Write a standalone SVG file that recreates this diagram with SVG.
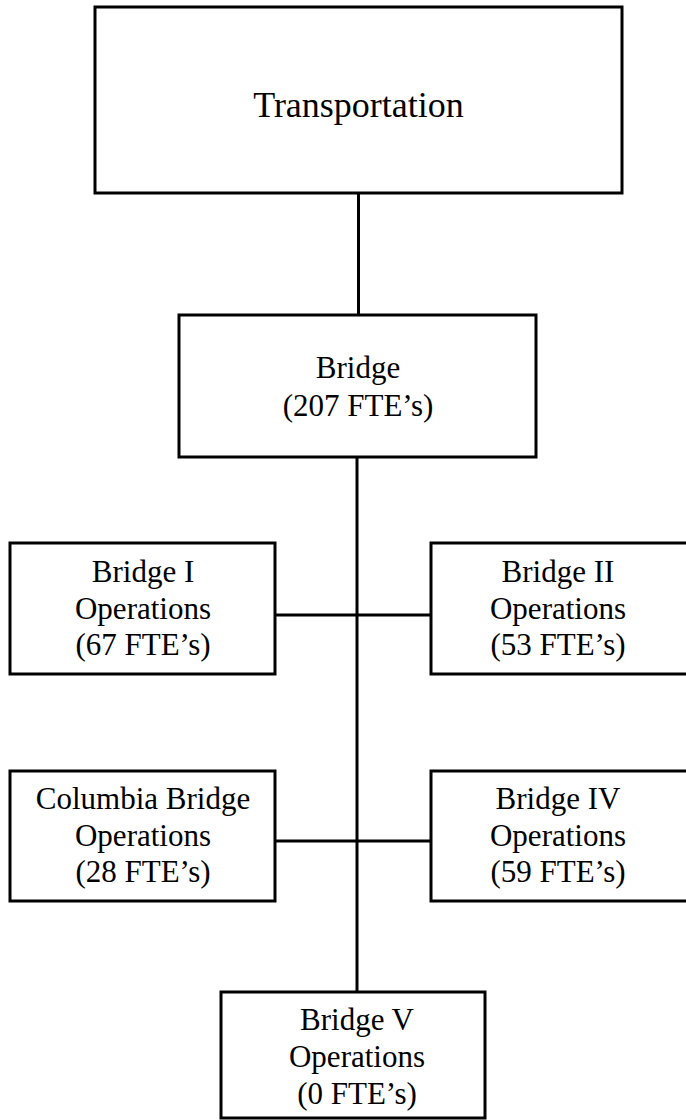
<svg xmlns="http://www.w3.org/2000/svg" width="686" height="1120" viewBox="0 0 686 1120">
<style>
.box{fill:#fff;stroke:#000;stroke-width:3}
.ln{stroke:#000;stroke-width:3;fill:none}
text{font-family:"Liberation Serif","Times New Roman",serif;fill:#000;text-anchor:middle;font-size:31px}
.big{font-size:36px}
</style>
<rect width="686" height="1120" fill="#fff"/>
<g id="connectors">
<line class="ln" x1="358.5" y1="193" x2="358.5" y2="315"/>
<line class="ln" x1="357" y1="457" x2="357" y2="992"/>
<line class="ln" x1="275" y1="615" x2="431" y2="615"/>
<line class="ln" x1="275" y1="841" x2="431" y2="841"/>
</g>
<g id="transportation">
<rect class="box" x="95" y="7" width="527" height="186"/>
<text class="big" x="358.5" y="117">Transportation</text>
</g>
<g id="bridge">
<rect class="box" x="179" y="315" width="357" height="142"/>
<text x="358" y="378">Bridge</text>
<text x="358" y="416">(207 FTE’s)</text>
</g>
<g id="bridge1">
<rect class="box" x="10" y="543" width="265" height="131"/>
<text x="143" y="582">Bridge I</text>
<text x="143" y="619">Operations</text>
<text x="143" y="655">(67 FTE’s)</text>
</g>
<g id="bridge2">
<rect class="box" x="431" y="543" width="280" height="131"/>
<text x="558" y="582">Bridge II</text>
<text x="558" y="619">Operations</text>
<text x="558" y="655">(53 FTE’s)</text>
</g>
<g id="columbia">
<rect class="box" x="10" y="771" width="265" height="130"/>
<text x="143" y="809">Columbia Bridge</text>
<text x="143" y="846">Operations</text>
<text x="143" y="882">(28 FTE’s)</text>
</g>
<g id="bridge4">
<rect class="box" x="431" y="771" width="280" height="130"/>
<text x="558" y="809">Bridge IV</text>
<text x="558" y="846">Operations</text>
<text x="558" y="882">(59 FTE’s)</text>
</g>
<g id="bridge5">
<rect class="box" x="221" y="992" width="264" height="126"/>
<text x="357" y="1030">Bridge V</text>
<text x="357" y="1067">Operations</text>
<text x="357" y="1104">(0 FTE’s)</text>
</g>
</svg>
